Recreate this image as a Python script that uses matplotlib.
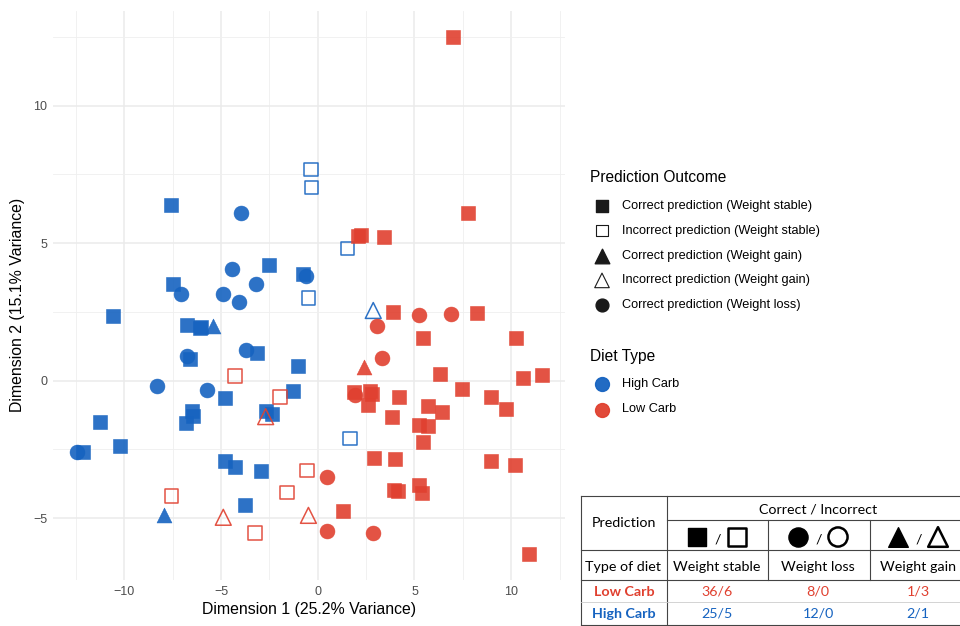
import matplotlib
matplotlib.use('Agg')
import matplotlib.pyplot as plt
from matplotlib.ticker import MultipleLocator

plt.rcParams['font.family'] = ['Liberation Sans', 'DejaVu Sans']

# colours
BLUE = '#1663C0'
RED = '#E0402F'

# ---- data ----
# High Carb
hc_stable_ok_x = [-7.57, -7.47, -10.57, -2.52, -0.76, -6.74, -6.02, -6.10, -3.13, -6.59, -1.00, -4.79, -1.27,
                  -6.51, -6.43, -6.82, -11.25, -10.21, -12.11, -4.79, -4.27, -2.95, -3.76, -2.67, -2.38]
hc_stable_ok_y = [6.38, 3.51, 2.36, 4.20, 3.88, 2.03, 1.96, 1.92, 1.01, 0.80, 0.54, -0.62, -0.36,
                  -1.11, -1.29, -1.55, -1.52, -2.39, -2.61, -2.92, -3.13, -3.27, -4.52, -1.09, -1.21]
hc_stable_bad_x = [-0.34, -0.31, -0.47, 1.53, 1.67]
hc_stable_bad_y = [7.68, 7.02, 3.01, 4.81, -2.10]
hc_loss_x = [-3.96, -4.44, -7.05, -4.91, -4.07, -3.17, -0.60, -3.72, -6.75, -8.29, -5.74, -12.42]
hc_loss_y = [6.09, 4.06, 3.15, 3.15, 2.87, 3.51, 3.80, 1.10, 0.91, -0.19, -0.35, -2.60]
hc_gain_ok_x = [-5.40, -7.94]
hc_gain_ok_y = [1.97, -4.88]
hc_gain_bad_x = [2.87]
hc_gain_bad_y = [2.55]

# Low Carb
lc_stable_ok_x = [7.01, 7.77, 2.10, 2.25, 3.43, 3.91, 8.25, 5.43, 10.25, 6.32, 10.59, 11.58, 7.47, 2.70,
                  2.79, 1.89, 4.20, 8.94, 2.58, 5.72, 6.41, 9.73, 3.82, 5.24, 5.72, 5.43, 2.91, 3.99,
                  8.94, 10.21, 3.94, 4.13, 5.24, 5.41, 1.29, 10.92]
lc_stable_ok_y = [12.51, 6.09, 5.26, 5.29, 5.21, 2.51, 2.45, 1.56, 1.56, 0.25, 0.10, 0.22, -0.31, -0.39,
                  -0.50, -0.40, -0.59, -0.59, -0.89, -0.93, -1.13, -1.05, -1.34, -1.62, -1.65, -2.25, -2.83, -2.86,
                  -2.92, -3.07, -3.97, -4.03, -3.79, -4.09, -4.73, -6.30]
lc_stable_bad_x = [-4.27, -1.95, -7.55, -1.60, -0.54, -3.24]
lc_stable_bad_y = [0.16, -0.59, -4.19, -4.06, -3.26, -5.54]
lc_loss_x = [3.31, 3.05, 5.24, 6.87, 0.46, 0.46, 2.84, 1.93]
lc_loss_y = [0.82, 2.00, 2.40, 2.43, -3.49, -5.46, -5.54, -0.54]
lc_gain_ok_x = [2.39]
lc_gain_ok_y = [0.50]
lc_gain_bad_x = [-2.69, -4.88, -0.48]
lc_gain_bad_y = [-1.31, -4.97, -4.90]

# summary table
table_cols = ['Weight stable', 'Weight loss', 'Weight gain']
table_rows = ['Low Carb', 'High Carb']
table_low = ['36/6', '8/0', '1/3']
table_high = ['25/5', '12/0', '2/1']

fig = plt.figure(figsize=(9.6, 6.26), dpi=100)
ax = fig.add_axes([53 / 960, 1 - 580 / 626, 512 / 960, 569 / 626])

# points
for col, sx, sy, bx, by, lx, ly, gx, gy, tx, ty in [
        (BLUE, hc_stable_ok_x, hc_stable_ok_y, hc_stable_bad_x, hc_stable_bad_y, hc_loss_x, hc_loss_y,
         hc_gain_ok_x, hc_gain_ok_y, hc_gain_bad_x, hc_gain_bad_y),
        (RED, lc_stable_ok_x, lc_stable_ok_y, lc_stable_bad_x, lc_stable_bad_y, lc_loss_x, lc_loss_y,
         lc_gain_ok_x, lc_gain_ok_y, lc_gain_bad_x, lc_gain_bad_y)]:
    ax.scatter(sx, sy, marker='s', s=105, color=col, alpha=0.9, linewidths=0.4, edgecolors=col, zorder=3)
    ax.scatter(bx, by, marker='s', s=95, facecolors='none', edgecolors=col, alpha=0.9, linewidths=1.1, zorder=3)
    ax.scatter(lx, ly, marker='o', s=115, color=col, alpha=0.9, linewidths=0.4, edgecolors=col, zorder=3)
    ax.scatter(gx, gy, marker='^', s=115, color=col, alpha=0.9, linewidths=0.4, edgecolors=col, zorder=3)
    ax.scatter(tx, ty, marker='^', s=130, facecolors='none', edgecolors=col, alpha=0.9, linewidths=1.1, zorder=3)

ax.set_xlim(-13.68, 12.78)
ax.set_ylim(-7.25, 13.44)
ax.xaxis.set_major_locator(MultipleLocator(5))
ax.yaxis.set_major_locator(MultipleLocator(5))
ax.xaxis.set_minor_locator(MultipleLocator(2.5))
ax.yaxis.set_minor_locator(MultipleLocator(2.5))
ax.grid(which='major', color='#EBEBEB', linewidth=1.1)
ax.grid(which='minor', color='#EFEFEF', linewidth=0.6)
ax.set_axisbelow(True)
for s in ax.spines.values():
    s.set_visible(False)
ax.tick_params(which='both', length=0, labelsize=9, labelcolor='#4D4D4D', pad=4)
ax.set_xlabel('Dimension 1 (25.2% Variance)', fontsize=11.4, labelpad=3)
ax.set_ylabel('Dimension 2 (15.1% Variance)', fontsize=11.4)
ax.yaxis.set_label_coords(-0.055, 0.484)

# overlay in pixel coordinates for legend and table
ov = fig.add_axes([0, 0, 1, 1])
ov.set_xlim(0, 960)
ov.set_ylim(626, 0)
ov.axis('off')

# legend: prediction outcome
ov.text(590, 178, 'Prediction Outcome', fontsize=11.2, va='center', ha='left')
leg_items = [('s', True, 'Correct prediction (Weight stable)', 70),
             ('s', False, 'Incorrect prediction (Weight stable)', 66),
             ('^', True, 'Correct prediction (Weight gain)', 110),
             ('^', False, 'Incorrect prediction (Weight gain)', 110),
             ('o', True, 'Correct prediction (Weight loss)', 85)]
for i, (m, filled, lab, sz) in enumerate(leg_items):
    yy = 206 + i * 24.8
    if filled:
        ov.scatter([602], [yy], marker=m, s=sz, color='#1A1A1A')
    else:
        ov.scatter([602], [yy], marker=m, s=sz, facecolors='none', edgecolors='#1A1A1A', linewidths=0.8)
    ov.text(622, yy, lab, fontsize=9.2, va='center', ha='left')

ov.text(590, 357, 'Diet Type', fontsize=11.2, va='center', ha='left')
for i, (c, lab) in enumerate([(BLUE, 'High Carb'), (RED, 'Low Carb')]):
    yy = 384 + i * 25.5
    ov.scatter([602], [yy], marker='o', s=100, color=c, alpha=0.95)
    ov.text(622, yy, lab, fontsize=9.2, va='center', ha='left')

# summary table
lc = '#444444'
lw = 0.8
ov.plot([581, 960], [496, 496], color=lc, lw=lw)
ov.plot([581, 581], [496, 626], color=lc, lw=lw)
ov.plot([667, 667], [496, 626], color=lc, lw=lw)
ov.plot([667, 960], [520, 520], color=lc, lw=lw)
ov.plot([768, 768], [520, 580], color=lc, lw=lw)
ov.plot([870, 870], [520, 580], color=lc, lw=lw)
ov.plot([581, 960], [550, 550], color=lc, lw=lw)
ov.plot([581, 960], [580, 580], color=lc, lw=lw)
ov.plot([581, 960], [602, 602], color='#CCCCCC', lw=0.6)
ov.plot([581, 960], [625, 625], color=lc, lw=lw)

tf = ['Lato', 'DejaVu Sans']
ov.text(624, 523, 'Prediction', fontsize=10.3, family=tf, ha='center', va='center')
ov.text(818, 509, 'Correct / Incorrect', fontsize=10.3, family=tf, ha='center', va='center')
ov.text(623, 567, 'Type of diet', fontsize=10.3, family=tf, ha='center', va='center')
col_x = [717, 818, 918]
for cx, lab in zip(col_x, table_cols):
    ov.text(cx, 567, lab, fontsize=10.3, family=tf, ha='center', va='center')
ov.text(624, 592, table_rows[0], fontsize=10.3, family=tf, weight='bold', color=RED, ha='center', va='center')
ov.text(624, 614, table_rows[1], fontsize=10.3, family=tf, weight='bold', color=BLUE, ha='center', va='center')
for cx, a, b in zip(col_x, table_low, table_high):
    ov.text(cx, 592, a, fontsize=10.3, family=tf, color=RED, ha='center', va='center')
    ov.text(cx, 614, b, fontsize=10.3, family=tf, color=BLUE, ha='center', va='center')

# shape symbols in the table header
for cx, m, sz in [(717, 's', 150), (818, 'o', 190), (918, '^', 200)]:
    ov.scatter([cx - 20], [537], marker=m, s=sz, color='black')
    ov.scatter([cx + 20], [537], marker=m, s=sz, facecolors='none', edgecolors='black', linewidths=1.8)
    ov.text(cx + 1, 539, '/', fontsize=10.3, family=tf, ha='center', va='center')

fig.savefig('out.png', dpi=100)
